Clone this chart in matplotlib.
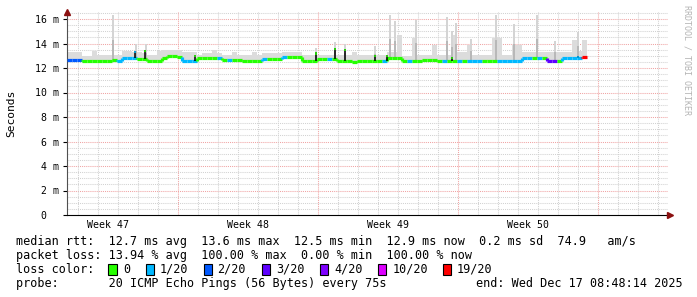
import numpy as np
import matplotlib
matplotlib.use("Agg")
import matplotlib.pyplot as plt
from matplotlib.collections import LineCollection
from matplotlib.patches import Rectangle

# ------------------------------------------------------------
# SmokePing style latency graph (4 weeks, median rtt + smoke)
# x axis is in days since the start of week 47
# ------------------------------------------------------------

week_labels = ["Week 47", "Week 48", "Week 49", "Week 50"]
week_starts = [0, 7, 14, 21, 28]

# one sample every 6 hours
sample_start = 1.45
sample_step = 0.25

median_ms = [
    12.65, 12.65, 12.65, 12.58, 12.58, 12.6, 12.6, 12.6, 12.6, 12.65,
    12.55, 12.8, 12.8, 12.85, 12.75, 12.7, 12.6, 12.6, 12.6, 12.85,
    12.95, 12.95, 12.9, 12.55, 12.55, 12.6, 12.85, 12.85, 12.85, 12.85,
    12.85, 12.65, 12.62, 12.62, 12.62, 12.6, 12.6, 12.6, 12.6, 12.7,
    12.7, 12.7, 12.7, 12.9, 12.9, 12.9, 12.9, 12.6, 12.6, 12.6,
    12.7, 12.7, 12.75, 12.7, 12.6, 12.6, 12.55, 12.5, 12.55, 12.55,
    12.55, 12.6, 12.6, 12.6, 12.85, 12.85, 12.85, 12.55, 12.55, 12.55,
    12.55, 12.65, 12.65, 12.65, 12.6, 12.6, 12.6, 12.6, 12.6, 12.55,
    12.55, 12.55, 12.55, 12.6, 12.6, 12.6, 12.55, 12.6, 12.6, 12.55,
    12.55, 12.8, 12.8, 12.8, 12.8, 12.85, 12.55, 12.55, 12.55, 12.82,
    12.82, 12.82, 12.85, 12.9,
]

# loss class per sample (index into loss_colors)
loss_class = [
    2, 2, 2, 0, 0, 0, 0, 0, 0, 0,
    1, 1, 1, 1, 0, 0, 0, 0, 0, 0,
    0, 0, 0, 1, 1, 1, 0, 0, 0, 0,
    1, 0, 1, 0, 0, 0, 0, 0, 0, 1,
    0, 0, 0, 1, 0, 0, 0, 0, 0, 0,
    0, 0, 1, 0, 0, 0, 0, 0, 0, 0,
    0, 0, 0, 1, 0, 0, 0, 0, 1, 0,
    0, 0, 0, 0, 0, 1, 0, 0, 1, 0,
    1, 1, 1, 0, 0, 0, 1, 1, 1, 1,
    1, 1, 1, 0, 1, 0, 3, 3, 0, 1,
    1, 1, 1, 6,
]

smoke_top_ms = [
    13.33, 13.33, 13.33, 13.0, 13.0, 13.4, 13.1, 13.1, 13.1, 13.1,
    13.1, 13.35, 13.35, 13.3, 13.3, 13.2, 13.1, 13.1, 13.35, 13.5,
    13.5, 13.5, 13.5, 13.3, 13.3, 13.3, 13.06, 13.2, 13.2, 13.45,
    13.2, 13.06, 13.06, 13.3, 13.06, 13.1, 13.1, 13.3, 13.1, 13.2,
    13.2, 13.2, 13.2, 13.3, 13.3, 13.3, 13.3, 13.1, 13.1, 13.1,
    13.1, 13.1, 13.1, 13.1, 13.1, 13.1, 13.05, 13.3, 13.05, 13.05,
    13.05, 13.05, 13.05, 13.05, 13.3, 13.3, 14.7, 13.0, 13.0, 14.45,
    13.05, 13.05, 13.05, 13.9, 13.05, 13.05, 13.05, 14.7, 13.33, 13.33,
    13.9, 13.05, 13.05, 13.05, 13.05, 14.45, 14.45, 13.05, 13.05, 13.9,
    13.9, 13.3, 13.3, 13.3, 13.3, 13.3, 13.3, 13.3, 13.3, 13.3,
    13.3, 14.3, 13.4, 14.3,
]

# narrow smoke spikes (day, top ms)
spike_day = [3.75, 4.9, 5.4, 13.9, 14.85, 15.35, 16.85, 17.6, 17.85, 18.9,
             20.45, 20.7, 20.9, 21.65, 22.9, 23.8, 24.95, 25.85, 27.0]
spike_top = [16.3, 14.0, 13.95, 13.65, 14.15, 14.0, 13.8, 16.3, 15.8, 15.9,
             16.2, 15.0, 15.7, 14.4, 16.3, 15.6, 16.3, 14.2, 14.9]

# short median jumps (drawn as black ticks with a coloured tip)
jump_day = [4.85, 5.35, 7.85, 13.9, 14.85, 15.35, 16.85, 17.45, 20.7, 27.0]
jump_top = [13.4, 13.5, 13.1, 13.3, 13.65, 13.55, 13.1, 13.1, 12.9, 13.0]
jump_class = [1, 0, 0, 0, 0, 0, 0, 0, 0, 1]

loss_colors = ["#26ff00", "#00b8ff", "#0059ff", "#5e00ff", "#7e00ff", "#dd00ff", "#ff0000"]
loss_names = ["0", "1/20", "2/20", "3/20", "4/20", "10/20", "19/20"]

legend_lines = [
    "median rtt:  12.7 ms avg  13.6 ms max  12.5 ms min  12.9 ms now  0.2 ms sd  74.9   am/s",
    "packet loss: 13.94 % avg  100.00 % max  0.00 % min  100.00 % now",
    "loss color:",
    "probe:       20 ICMP Echo Pings (56 Bytes) every 75s",
]
end_text = "end: Wed Dec 17 08:48:14 2025"

# ------------------------------------------------------------
W, H = 697, 297
fig = plt.figure(figsize=(W / 100, H / 100), dpi=100)
fig.patch.set_facecolor("white")

x0_day = 1.45
x1_day = x0_day + 601 / 20
y_top = 203 / 12.25

ax = fig.add_axes([67 / W, 82 / H, 601 / W, 203 / H])
ax.set_xlim(x0_day, x1_day)
ax.set_ylim(0, y_top)

mono = "DejaVu Sans Mono"

# grid
grid_minor = dict(color="#d2d2d2", lw=0.75, ls=(0, (1, 1)), zorder=0)
grid_major = dict(color="#f0a4a4", lw=0.75, ls=(0, (1, 1)), zorder=0)
for v in np.arange(0.5, y_top, 0.5):
    if abs(v % 2) < 1e-9:
        ax.axhline(v, **grid_major)
    else:
        ax.axhline(v, **grid_minor)
for d in range(2, 32):
    if d % 7 == 0:
        ax.axvline(d, **grid_major)
    else:
        ax.axvline(d, **grid_minor)

t = sample_start + sample_step * np.arange(len(median_ms))
med = np.array(median_ms)
top = np.array(smoke_top_ms)

# smoke
ax.bar(t, top - med, bottom=med, width=sample_step, align="edge",
       color="#dcdcdc", linewidth=0, zorder=2)
idx = np.clip(np.searchsorted(t, spike_day) - 1, 0, len(t) - 1)
base = med[idx]
spk = np.array(spike_top)
ax.bar(spike_day, spk - base, bottom=base, width=0.12, align="center",
       color="#d4d4d4", linewidth=0, zorder=2)
ax.bar(spike_day, (spk - base) * 0.45, bottom=base, width=0.12, align="center",
       color="#b8b8b8", linewidth=0, zorder=2)

# median line, coloured by loss
segs, cols = [], []
for i in range(len(t)):
    c = loss_colors[loss_class[i]]
    segs.append([(t[i], med[i]), (t[i] + sample_step, med[i])])
    cols.append(c)
    if i > 0 and med[i] != med[i - 1]:
        segs.append([(t[i], med[i - 1]), (t[i], med[i])])
        cols.append(c)
ax.add_collection(LineCollection(segs, colors=cols, linewidths=2.3,
                                 capstyle="butt", zorder=4))

jidx = np.clip(np.searchsorted(t, jump_day) - 1, 0, len(t) - 1)
ax.vlines(jump_day, med[jidx], jump_top, color="black", lw=1.1, zorder=5)
for d, tp, c in zip(jump_day, jump_top, jump_class):
    ax.vlines(d, tp - 0.2, tp, color=loss_colors[c], lw=1.1, zorder=6)

# axes
for s in ["top", "right"]:
    ax.spines[s].set_visible(False)
ax.spines["left"].set_color("#505050")
ax.spines["left"].set_linewidth(0.8)
ax.spines["bottom"].set_color("black")
ax.spines["bottom"].set_linewidth(0.8)
ax.plot([x0_day], [y_top], marker="^", color="#8b1010", markersize=4,
        clip_on=False, zorder=7)
ax.plot([x1_day + 0.12], [0], marker=">", color="#8b1010", markersize=4,
        clip_on=False, zorder=7)

ax.set_yticks(range(0, 17, 2))
ax.set_yticklabels(["0  "] + [f"{v} m" for v in range(2, 17, 2)],
                   family=mono, fontsize=7.1)
ax.tick_params(axis="y", length=3, width=0.8, pad=2.5, color="black")
ax.set_xticks([w + 3.5 for w in week_starts[:4]])
ax.set_xticklabels(week_labels, family=mono, fontsize=7.1)
ax.tick_params(axis="x", length=0, pad=3.5)
ax.set_ylabel("Seconds", family=mono, fontsize=8.1)
ax.yaxis.set_label_coords(-(67 - 16) / 601, 0.5)

# vendor tag on the right
fig.text(687 / W, 1 - 5 / H, "RRDTOOL / TOBI OETIKER", rotation=270,
         family=mono, fontsize=6, color="#b4b4b4", ha="center", va="top")

# legend block
fs = 8.5
line_y = [241.3, 255.3, 269.3, 283.3]
for txt, y in zip(legend_lines, line_y):
    fig.text(16 / W, 1 - y / H, txt, family=mono, fontsize=fs,
             ha="left", va="center")
fig.text(476 / W, 1 - line_y[3] / H, end_text, family=mono, fontsize=fs,
         ha="left", va="center")

box_x = [108.3, 145.7, 204, 261.7, 320, 377.7, 442.7]
label_x = [123, 160, 217, 276, 334, 392.3, 456.7]
for bx, lx, c, name in zip(box_x, label_x, loss_colors, loss_names):
    fig.add_artist(Rectangle((bx / W, 1 - 274.5 / H), 8.3 / W, 10.5 / H,
                             transform=fig.transFigure, facecolor=c,
                             edgecolor="black", linewidth=0.8))
    fig.text(lx / W, 1 - line_y[2] / H, name, family=mono, fontsize=fs,
             ha="left", va="center")

fig.savefig("out.png", dpi=100)
